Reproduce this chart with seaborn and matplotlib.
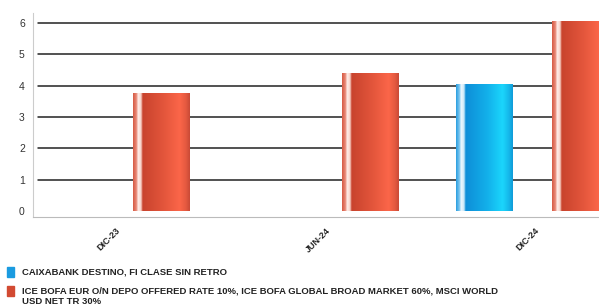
import matplotlib
matplotlib.use("Agg")
import matplotlib.pyplot as plt
from matplotlib.colors import LinearSegmentedColormap
from matplotlib.patches import Rectangle
from matplotlib.transforms import ScaledTranslation
import seaborn as sns
import numpy as np
import pandas as pd

# datos
fechas = ["DIC-23", "JUN-24", "DIC-24"]
serie_fondo = "CAIXABANK DESTINO, FI CLASE SIN RETRO"
serie_indice = ["ICE BOFA EUR O/N DEPO OFFERED RATE 10%, ICE BOFA GLOBAL BROAD MARKET 60%, MSCI WORLD",
                "USD NET TR 30%"]
valores_fondo = [np.nan, np.nan, 4.03]
valores_indice = [3.74, 4.38, 6.04]
yticks = [0, 1, 2, 3, 4, 5, 6]

df = pd.DataFrame({
    "fecha": fechas * 2,
    "valor": valores_fondo + valores_indice,
    "serie": ["fondo"] * 3 + ["indice"] * 3,
})

azul, rojo = "#1a9be0", "#d24a32"

sns.set_style("white")
plt.rcParams["font.family"] = ["Liberation Sans", "DejaVu Sans"]

fig = plt.figure(figsize=(5.99, 3.07), dpi=100)
ax = fig.add_axes([33 / 599, 90 / 307, 1 - 33 / 599, 204 / 307])

sns.barplot(data=df, x="fecha", y="valor", hue="serie", order=fechas,
            hue_order=["fondo", "indice"], palette=[azul, rojo],
            width=0.916, gap=0.41, legend=False, ax=ax, zorder=3)

# degradado tipo "cilindro" sobre cada barra
grad_rojo = LinearSegmentedColormap.from_list("r", [
    (0.0, "#d65a44"), (0.06, "#e98a78"), (0.09, "#fff0ec"), (0.14, "#f7d2c8"),
    (0.17, "#c8432d"), (0.55, "#e4563c"), (0.82, "#fb6649"), (0.93, "#e55a40"), (1.0, "#c94a36")])
grad_azul = LinearSegmentedColormap.from_list("b", [
    (0.0, "#2a9fe0"), (0.06, "#7cc6ef"), (0.09, "#f0f8fe"), (0.14, "#c9e8f8"),
    (0.17, "#0e8ed8"), (0.55, "#13b0ea"), (0.82, "#1bd6fc"), (0.93, "#15b8ea"), (1.0, "#109ad8")])
g = np.linspace(0, 1, 256).reshape(1, -1)
for p in ax.patches:
    h = p.get_height()
    if not np.isfinite(h) or h == 0:
        continue
    cmap = grad_azul if p.get_facecolor()[2] > 0.5 else grad_rojo
    x0, w = p.get_x(), p.get_width()
    ax.imshow(g, cmap=cmap, extent=[x0, x0 + w, 0, h], aspect="auto",
              interpolation="bilinear", zorder=3)
    p.set_alpha(0)

ax.set_xlim(-0.382, 2.32)
ax.set_ylim(-0.19, 6.32)
ax.set_yticks(yticks)
for v in yticks[1:]:
    ax.axhline(v, xmin=5 / 566, color="#222222", lw=1.1, zorder=1)

ax.set_xlabel("")
ax.set_ylabel("")
for s in ["top", "right"]:
    ax.spines[s].set_visible(False)
ax.spines["left"].set_color("#cccccc")
ax.spines["bottom"].set_color("#bbbbbb")
ax.tick_params(axis="y", length=2, color="#bbbbbb", pad=6, labelsize=7.5, labelcolor="#333333")
ax.tick_params(axis="x", length=3, color="#bbbbbb", pad=6)
plt.setp(ax.get_yticklabels(), ha="center")
desplaza = ScaledTranslation(6 / 100, 0, fig.dpi_scale_trans)
for lbl in ax.get_xticklabels():
    lbl.set(rotation=45, ha="right", va="center", rotation_mode="anchor",
            fontsize=6.5, fontweight="bold", color="#222222")
    lbl.set_transform(lbl.get_transform() + desplaza)

# leyenda inferior
filas = [(azul, [serie_fondo]), (rojo, serie_indice)]
y_fila = 272
for color, lineas in filas:
    fig.add_artist(Rectangle((7 / 599, 1 - (y_fila + 5) / 307), 7 / 599, 10 / 307,
                             transform=fig.transFigure, color=color))
    for i, linea in enumerate(lineas):
        fig.text(22 / 599, 1 - (y_fila + 10 * i) / 307, linea, fontsize=6.8,
                 fontweight="bold", color="#222222", va="center", ha="left")
    y_fila += 19

fig.savefig("out.png", dpi=100)
